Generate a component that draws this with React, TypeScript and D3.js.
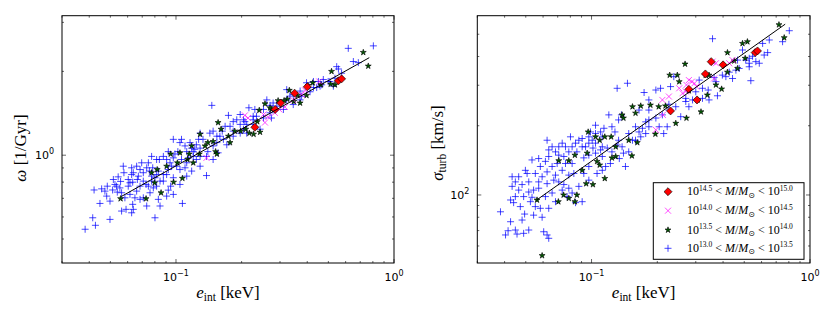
import React from "react";
import * as d3 from "d3";

// e_int [keV] vs omega [1/Gyr]  (left panel)
const omegaRed = [
  [0.23, 1.26], [0.302, 1.54], [0.35, 1.67], [0.4, 1.76], [0.556, 1.85], [0.575, 1.88], [0.285, 1.46],
];
const omegaMagenta = [
  [0.138, 0.978], [0.207, 1.39], [0.214, 1.36], [0.252, 1.4], [0.256, 1.31], [0.265, 1.37], [0.284, 1.42],
  [0.298, 1.46], [0.316, 1.49], [0.345, 1.58], [0.377, 1.65], [0.454, 1.84], [0.391, 1.71],
];
const omegaGreen = [
  [0.0557, 0.698], [0.0729, 0.698], [0.0854, 0.733], [0.0798, 0.796], [0.0975, 0.8], [0.107, 0.826], [0.12, 0.939],
  [0.129, 1.19], [0.118, 1.08], [0.128, 1.01], [0.136, 1.08], [0.148, 1.12], [0.156, 1.31], [0.161, 1.24],
  [0.152, 1.03], [0.154, 1.01], [0.174, 1.17], [0.177, 1.11], [0.186, 1.22], [0.198, 1.22], [0.227, 1.19],
  [0.243, 1.21], [0.256, 1.53], [0.274, 1.46], [0.294, 1.57], [0.324, 1.59], [0.347, 1.56], [0.371, 1.54],
  [0.331, 1.71], [0.403, 1.78], [0.424, 1.82], [0.462, 1.79], [0.517, 2.0], [0.512, 1.8], [0.536, 1.79],
  [0.723, 2.34], [0.762, 2.09], [0.0945, 1.01], [0.1015, 0.939], [0.113, 0.965], [0.082, 0.888], [0.0906, 0.913],
  [0.1043, 1.02], [0.14, 1.11], [0.115, 1.01], [0.209, 1.24], [0.217, 1.2], [0.236, 1.32], [0.241, 1.45],
  [0.27, 1.48], [0.313, 1.57], [0.361, 1.64], [0.397, 1.64], [0.0773, 0.865],
];
const omegaBlue = [
  [0.0383, 0.542], [0.0415, 0.596], [0.0427, 0.56], [0.0448, 0.671], [0.0421, 0.75], [0.0456, 0.757], [0.0484, 0.774],
  [0.0512, 0.75], [0.0498, 0.684], [0.0498, 0.588], [0.0543, 0.836], [0.0557, 0.805], [0.0538, 0.737], [0.0563, 0.63],
  [0.059, 0.639], [0.0637, 0.639], [0.0633, 0.666], [0.0583, 0.703], [0.0615, 0.723], [0.066, 0.743], [0.0684, 0.774],
  [0.0633, 0.8], [0.0604, 0.774], [0.0577, 0.865], [0.0626, 0.852], [0.0665, 0.818], [0.0708, 0.865], [0.0696, 0.939],
  [0.0747, 0.939], [0.0782, 0.901], [0.0729, 0.785], [0.0773, 0.841], [0.0815, 0.852], [0.083, 0.694], [0.0845, 0.807],
  [0.0922, 0.749], [0.0906, 0.713], [0.0945, 0.774], [0.0801, 0.596], [0.107, 0.671], [0.0972, 0.978], [0.0972, 1.14],
  [0.1043, 1.11], [0.106, 1.14], [0.112, 1.03], [0.102, 1.03], [0.0922, 1.03], [0.0875, 0.99], [0.0839, 0.965],
  [0.0939, 0.939], [0.1007, 0.913], [0.11, 0.901], [0.114, 0.978], [0.124, 1.09], [0.133, 1.14], [0.138, 0.99],
  [0.138, 0.845], [0.129, 1.06], [0.118, 1.06], [0.154, 1.17], [0.163, 1.22], [0.183, 1.17], [0.197, 1.2],
  [0.177, 1.27], [0.19, 1.34], [0.211, 1.2], [0.243, 1.24], [0.146, 1.51], [0.174, 1.39], [0.197, 1.4],
  [0.216, 1.48], [0.23, 1.46], [0.234, 1.38], [0.226, 1.29], [0.204, 1.24], [0.261, 1.58], [0.279, 1.54],
  [0.311, 1.46], [0.322, 1.72], [0.345, 1.65], [0.371, 1.58], [0.397, 1.82], [0.427, 1.84], [0.442, 1.75],
  [0.474, 1.87], [0.508, 1.84], [0.527, 1.77], [0.536, 1.89], [0.546, 2.08], [0.556, 2.04], [0.617, 2.42],
  [0.804, 2.47], [0.651, 2.17], [0.686, 2.15], [0.499, 1.84], [0.45, 1.84], [0.427, 1.75], [0.333, 1.63],
  [0.29, 1.5], [0.27, 1.42], [0.252, 1.36], [0.204, 1.34], [0.165, 1.14], [0.171, 1.09], [0.148, 1.08],
  [0.14, 1.03], [0.12, 0.99], [0.112, 0.939], [0.106, 0.965], [0.083, 0.877], [0.0801, 0.83], [0.0755, 0.877],
  [0.0684, 0.888], [0.066, 0.913], [0.0734, 0.901], [0.0626, 0.901], [0.0604, 0.818], [0.0553, 0.763], [0.0525, 0.785],
  [0.0481, 0.713], [0.0648, 0.703], [0.0708, 0.703], [0.076, 0.733], [0.0787, 0.763], [0.0875, 0.807], [0.0906, 0.852],
  [0.0972, 0.83], [0.1043, 0.888], [0.124, 0.965], [0.129, 0.99], [0.154, 1.11], [0.129, 1.2], [0.226, 1.38],
  [0.274, 1.36], [0.371, 1.7], [0.466, 1.79], [0.575, 1.97], [0.211, 1.29], [0.183, 1.22], [0.12, 1.03],
  [0.0516, 0.818], [0.0573, 0.913], [0.0637, 0.865], [0.0672, 0.841], [0.0708, 0.807], [0.0747, 0.774], [0.0773, 0.807],
  [0.0815, 0.774], [0.0875, 0.852], [0.0922, 0.888], [0.0955, 0.913], [0.0815, 0.965], [0.0773, 0.99], [0.0906, 0.965],
  [0.0989, 1.01], [0.11, 1.08], [0.116, 1.11], [0.122, 1.05], [0.127, 1.14], [0.143, 1.2], [0.159, 1.17],
  [0.148, 1.22], [0.168, 1.27], [0.197, 1.29], [0.183, 1.32], [0.207, 1.32], [0.226, 1.34], [0.252, 1.46],
  [0.27, 1.51], [0.3, 1.54], [0.322, 1.58], [0.345, 1.52], [0.377, 1.63], [0.412, 1.69], [0.458, 1.77],
  [0.0615, 0.796], [0.0534, 0.774], [0.0472, 0.743], [0.0563, 0.733], [0.0684, 0.694], [0.0734, 0.657], [0.0845, 0.657],
  [0.0626, 0.621], [0.0972, 0.723], [0.1043, 0.785], [0.112, 0.841], [0.118, 0.877], [0.129, 0.913], [0.148, 0.965],
  [0.156, 1.02],
];

// e_int [keV] vs sigma_turb [km/s]  (right panel)
const sigmaRed = [
  [0.23, 232], [0.279, 288], [0.304, 259], [0.332, 336], [0.353, 380], [0.4, 368], [0.561, 416], [0.575, 423],
];
const sigmaMagenta = [
  [0.197, 192], [0.211, 259], [0.212, 223], [0.226, 268], [0.252, 291], [0.261, 277], [0.272, 301], [0.279, 316],
  [0.288, 311], [0.296, 306], [0.302, 296], [0.27, 282], [0.358, 380], [0.371, 374], [0.364, 321], [0.427, 374],
  [0.442, 386],
];
const sigmaGreen = [
  [0.721, 550], [0.762, 483], [0.0563, 95.1], [0.0594, 54.5], [0.0705, 93.5], [0.0787, 96.7], [0.0839, 93.5],
  [0.0857, 100], [0.0745, 100], [0.0945, 112], [0.1015, 111], [0.0965, 188], [0.1043, 179], [0.109, 173],
  [0.115, 179], [0.123, 179], [0.129, 162], [0.115, 118], [0.106, 140], [0.109, 135], [0.138, 223],
  [0.14, 216], [0.154, 242], [0.159, 227], [0.153, 148], [0.148, 173], [0.162, 169], [0.168, 244],
  [0.196, 184], [0.186, 246], [0.203, 242], [0.218, 244], [0.243, 205], [0.247, 332], [0.252, 311],
  [0.272, 216], [0.279, 284], [0.268, 371], [0.306, 259], [0.339, 272], [0.345, 332], [0.371, 301],
  [0.394, 289], [0.419, 416], [0.45, 383], [0.466, 355], [0.491, 456], [0.517, 464], [0.505, 393],
  [0.0787, 141], [0.0708, 141], [0.0839, 149], [0.0955, 152], [0.124, 145], [0.129, 147], [0.0906, 128],
  [0.317, 230], [0.333, 332], [0.419, 342], [0.228, 332],
];
const sigmaBlue = [
  [0.0383, 84.5], [0.0404, 67], [0.0426, 76.5], [0.044, 92.6], [0.0415, 69.9], [0.0448, 70.4], [0.0456, 67.6],
  [0.0481, 77.8], [0.0489, 68.1], [0.0494, 82.6], [0.0516, 70.4], [0.0525, 93.5], [0.0543, 81.7], [0.0594, 80],
  [0.0604, 69.2], [0.0626, 67], [0.0637, 64.8], [0.0583, 87.5], [0.0637, 87.5], [0.0684, 93.5], [0.0615, 98.4],
  [0.0534, 97.7], [0.0489, 98.4], [0.0448, 98.4], [0.0433, 109], [0.0481, 111], [0.0516, 114], [0.0543, 105],
  [0.0573, 114], [0.0594, 120], [0.0553, 124], [0.0507, 124], [0.0464, 120], [0.0626, 126], [0.066, 133],
  [0.0684, 122], [0.0708, 114], [0.0747, 111], [0.0787, 107], [0.0815, 102], [0.0845, 92.6], [0.0906, 93.5],
  [0.0637, 147], [0.0708, 149], [0.076, 137], [0.0815, 137], [0.0857, 154], [0.0906, 162], [0.0922, 145],
  [0.0972, 149], [0.0875, 173], [0.0906, 176], [0.0972, 168], [0.1015, 160], [0.1043, 152], [0.112, 147],
  [0.118, 160], [0.122, 137], [0.134, 144], [0.14, 152], [0.133, 173], [0.143, 133], [0.1043, 201],
  [0.114, 195], [0.12, 223], [0.112, 179], [0.1043, 185], [0.0989, 188], [0.146, 306], [0.174, 279],
  [0.197, 286], [0.183, 259], [0.165, 234], [0.177, 208], [0.171, 195], [0.183, 212], [0.177, 185],
  [0.159, 198], [0.148, 185], [0.222, 198], [0.214, 185], [0.256, 219], [0.279, 242], [0.226, 248],
  [0.207, 291], [0.23, 296], [0.238, 327], [0.311, 316], [0.322, 263], [0.342, 286], [0.377, 270],
  [0.364, 324], [0.412, 327], [0.358, 478], [0.458, 349], [0.466, 386], [0.527, 374], [0.536, 314],
  [0.607, 456], [0.64, 416], [0.804, 518], [0.749, 464], [0.491, 427], [0.527, 393], [0.546, 401],
  [0.0801, 179], [0.0734, 168], [0.066, 162], [0.0626, 173], [0.0684, 154], [0.076, 162], [0.0815, 162],
  [0.1007, 173], [0.128, 188], [0.131, 165], [0.148, 154], [0.159, 173], [0.165, 188], [0.133, 212],
  [0.124, 198], [0.11, 188], [0.131, 291], [0.137, 223], [0.183, 234], [0.204, 198], [0.27, 263],
  [0.3, 281], [0.345, 259], [0.442, 321], [0.508, 386], [0.586, 374], [0.651, 472], [0.0534, 142],
  [0.0583, 133], [0.0498, 128], [0.0433, 120], [0.0922, 124], [0.083, 124], [0.112, 128], [0.0972, 133],
  [0.0787, 122], [0.0734, 128], [0.0672, 116], [0.0626, 112], [0.0573, 107], [0.0516, 103], [0.0464, 105],
  [0.0448, 114], [0.0426, 95.1], [0.0472, 89], [0.0553, 89], [0.066, 102], [0.0734, 105], [0.0773, 98.4],
  [0.0875, 109], [0.0972, 116], [0.106, 124], [0.116, 133], [0.124, 154], [0.11, 157], [0.0939, 162],
  [0.0845, 168], [0.0787, 154], [0.0747, 147], [0.0696, 137], [0.0615, 140], [0.0573, 144], [0.0637, 157],
  [0.0708, 162], [0.0972, 179], [0.1043, 168], [0.112, 162], [0.138, 162], [0.154, 173], [0.168, 179],
  [0.183, 198], [0.197, 216], [0.211, 223], [0.226, 234], [0.243, 242], [0.27, 255], [0.29, 259],
  [0.322, 291], [0.371, 311], [0.397, 332], [0.427, 342], [0.474, 355], [0.527, 361], [0.565, 380],
  [0.617, 406],
];

// power-law fits drawn as straight lines in log space
const fitE = [0.056, 0.77];
const fitOmega = [0.71, 2.24];
const fitSigma = [95, 553];

const xMinor = [0.03, 0.04, 0.05, 0.06, 0.07, 0.08, 0.09, 0.2, 0.3, 0.4, 0.5, 0.6, 0.7, 0.8, 0.9];
const xMajor = [0.1, 1];
const xMajorExp = ["\u22121", "0"];
const omegaMajor = [1];
const omegaMinor = [0.5, 0.6, 0.7, 0.8, 0.9, 2, 3];
const sigmaMajor = [100];
const sigmaMinor = [60, 70, 80, 90, 200, 300, 400, 500];

const legendRanges = [
  ["14.5", "15.0"],
  ["14.0", "14.5"],
  ["13.5", "14.0"],
  ["13.0", "13.5"],
];

const TOP = 15.7;
const BOTTOM = 263;
const SERIF = "'Liberation Serif', 'DejaVu Serif', serif";
const SANS = "'DejaVu Sans', sans-serif";

const starPath = d3.symbol(d3.symbolStar, 11)()!;
const squarePath = d3.symbol(d3.symbolSquare, 32)()!;

function Marker({ kind, cx, cy }: { kind: string; cx: number; cy: number }) {
  if (kind === "plus") {
    return (
      <path
        d={`M${cx - 3.5},${cy}H${cx + 3.5}M${cx},${cy - 3.5}V${cy + 3.5}`}
        stroke="#0000ff"
        strokeOpacity={0.72}
        strokeWidth={1}
      />
    );
  }
  if (kind === "cross") {
    return (
      <path
        d={`M${cx - 3},${cy - 3}L${cx + 3},${cy + 3}M${cx - 3},${cy + 3}L${cx + 3},${cy - 3}`}
        stroke="#ff00ff"
        strokeOpacity={0.7}
        strokeWidth={1}
      />
    );
  }
  if (kind === "star") {
    return (
      <path d={starPath} transform={`translate(${cx},${cy})`} fill="#005a00" stroke="#000" strokeWidth={0.6} />
    );
  }
  return (
    <path
      d={squarePath}
      transform={`translate(${cx},${cy}) rotate(45)`}
      fill="#ff0000"
      stroke="#000"
      strokeWidth={0.6}
    />
  );
}

function Pow({ exp }: { exp: string }) {
  return (
    <>
      10
      <tspan dy={-5} fontSize={8}>
        {exp}
      </tspan>
    </>
  );
}

function Panel(props: any) {
  const { id, left, right, yDomain, yMajor, yMinor, yExp, series, fitY, yLabel, yLabelX, yLabelY, legend } = props;
  const x = d3.scaleLog().domain([0.03, 1]).range([left, right]);
  const y = d3.scaleLog().domain(yDomain).range([BOTTOM, TOP]);
  const fitLine = d3
    .line<number>()
    .x((_, i) => x(fitE[i]))
    .y((d) => y(d));

  // ticks go inward on all four sides
  const xt = (v: number, len: number) =>
    `M${x(v)},${BOTTOM}v${-len}M${x(v)},${TOP}v${len}`;
  const yt = (v: number, len: number) =>
    `M${left},${y(v)}h${len}M${right},${y(v)}h${-len}`;

  return (
    <g>
      <defs>
        <clipPath id={id}>
          <rect x={left} y={TOP} width={right - left} height={BOTTOM - TOP} />
        </clipPath>
      </defs>
      <g clipPath={`url(#${id})`}>
        {series.map((s: any) =>
          s.data.map((d: number[], i: number) => (
            <Marker key={s.kind + i} kind={s.kind} cx={x(d[0])} cy={y(d[1])} />
          ))
        )}
        <path d={fitLine(fitY) || ""} fill="none" stroke="#000" strokeWidth={1} />
      </g>
      <path
        d={xMinor.map((v) => xt(v, 2)).join("") + xMajor.map((v) => xt(v, 4)).join("")}
        stroke="#000"
        strokeWidth={0.6}
      />
      <path
        d={yMinor.map((v: number) => yt(v, 2)).join("") + yMajor.map((v: number) => yt(v, 4)).join("")}
        stroke="#000"
        strokeWidth={0.6}
      />
      <rect x={left} y={TOP} width={right - left} height={BOTTOM - TOP} fill="none" stroke="#000" strokeWidth={1} />
      {xMajor.map((v, i) => (
        <text key={v} x={x(v)} y={280.5} textAnchor="middle" fontFamily={SANS} fontSize={11}>
          <Pow exp={xMajorExp[i]} />
        </text>
      ))}
      {yMajor.map((v: number) => (
        <text key={v} x={left - 8} y={y(v) + 4} textAnchor="end" fontFamily={SANS} fontSize={11}>
          <Pow exp={yExp} />
        </text>
      ))}
      <text x={(left + right) / 2} y={298} textAnchor="middle" fontFamily={SERIF} fontSize={17}>
        <tspan fontStyle="italic">e</tspan>
        <tspan dy={3} fontSize={11.5}>
          int
        </tspan>
        <tspan dy={-3}> [keV]</tspan>
      </text>
      <text
        transform={`translate(${yLabelX},${yLabelY}) rotate(-90)`}
        textAnchor="middle"
        fontFamily={SERIF}
        fontSize={17}
      >
        {yLabel}
      </text>
      {legend && (
        <g>
          <rect x={653.3} y={182.7} width={150.7} height={76.6} fill="#fff" stroke="#000" strokeWidth={1} />
          {legendRanges.map((r, i) => {
            const cy = [191.7, 210.7, 230, 248.3][i];
            const kind = ["diamond", "cross", "star", "plus"][i];
            return (
              <g key={i}>
                <Marker kind={kind} cx={668} cy={cy} />
                <text x={687} y={cy + 3.5} fontFamily={SERIF} fontSize={12}>
                  10
                  <tspan dy={-4.5} fontSize={7.5}>
                    {r[0]}
                  </tspan>
                  <tspan dy={4.5}>{" < "}</tspan>
                  <tspan fontStyle="italic">M</tspan>/<tspan fontStyle="italic">M</tspan>
                  <tspan dy={2.5} fontSize={8} fontFamily={SANS}>
                    {"\u2299"}
                  </tspan>
                  <tspan dy={-2.5}>{" < 10"}</tspan>
                  <tspan dy={-4.5} fontSize={7.5}>
                    {r[1]}
                  </tspan>
                </text>
              </g>
            );
          })}
        </g>
      )}
    </g>
  );
}

export default function App() {
  return (
    <svg
      width={830}
      height={312}
      style={{ position: "absolute", left: 0, top: 0, background: "#fff" }}
    >
      <Panel
        id="clipL"
        left={62}
        right={394}
        yDomain={[0.41, 3.17]}
        yMajor={omegaMajor}
        yMinor={omegaMinor}
        yExp="0"
        fitY={fitOmega}
        yLabelX={26}
        yLabelY={148}
        yLabel={
          <>
            <tspan fontStyle="italic">ω</tspan> [1/Gyr]
          </>
        }
        series={[
          { kind: "plus", data: omegaBlue },
          { kind: "star", data: omegaGreen },
          { kind: "cross", data: omegaMagenta },
          { kind: "diamond", data: omegaRed },
        ]}
      />
      <Panel
        id="clipR"
        left={477.3}
        right={810}
        yDomain={[50.6, 602]}
        yMajor={sigmaMajor}
        yMinor={sigmaMinor}
        yExp="2"
        fitY={fitSigma}
        yLabelX={443}
        yLabelY={143}
        yLabel={
          <>
            <tspan fontStyle="italic">σ</tspan>
            <tspan dy={3} fontSize={11.5}>
              turb
            </tspan>
            <tspan dy={-3}> [km/s]</tspan>
          </>
        }
        legend
        series={[
          { kind: "plus", data: sigmaBlue },
          { kind: "star", data: sigmaGreen },
          { kind: "cross", data: sigmaMagenta },
          { kind: "diamond", data: sigmaRed },
        ]}
      />
    </svg>
  );
}
